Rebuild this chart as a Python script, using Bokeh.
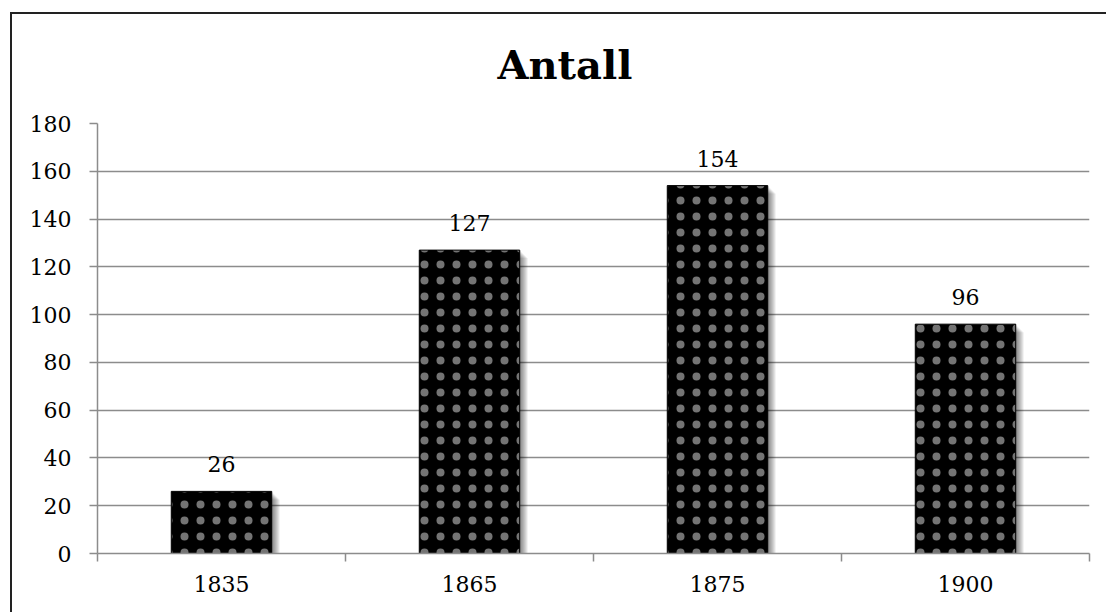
from bokeh.plotting import figure
from bokeh.models import Range1d, FixedTicker
from bokeh.core.properties import value
from bokeh.embed import file_html
from bokeh.resources import INLINE

# ---- data ----
years = ["1835", "1865", "1875", "1900"]
counts = [26, 127, 154, 96]
y_ticks = [0, 20, 40, 60, 80, 100, 120, 140, 160, 180]
title_text = "Antall"

FONT = "DejaVu Serif"
GRID = "#8c8c8c"

W, H = 1106, 612
ML, MR, MT, MB = 97, 17, 123, 59
frame_w = W - ML - MR
frame_h = H - MT - MB

n = len(years)
xs = [i + 0.5 for i in range(n)]
px_x = n / frame_w
px_y = (y_ticks[-1] - y_ticks[0]) / frame_h

p = figure(width=W, height=H, x_range=Range1d(0, n), y_range=Range1d(y_ticks[0], y_ticks[-1]),
           output_backend="svg", toolbar_location=None,
           min_border_left=ML, min_border_right=MR, min_border_top=MT, min_border_bottom=MB)
p.outline_line_color = None
p.background_fill_color = "white"
p.border_fill_alpha = 0
# outer chart border (drawn behind the transparent canvas border area)
p.styles = {
    "background": ("linear-gradient(#222,#222) 10px 12px / 2px 100% no-repeat, "
                   "linear-gradient(#222,#222) 10px 12px / 100% 2px no-repeat, white"),
}

# grid
p.xgrid.visible = False
p.ygrid.ticker = FixedTicker(ticks=y_ticks)
p.ygrid.grid_line_color = GRID
p.ygrid.grid_line_width = 1.5

bar_w = 0.405

# soft shadow
for k in range(1, 9):
    p.vbar(x=[x + k * px_x for x in xs], top=[c - k * px_y for c in counts],
           bottom=-k * px_y, width=bar_w, fill_color="#000000", fill_alpha=0.07,
           line_color=None)

# bars
p.vbar(x=xs, top=counts, width=bar_w, fill_color="black", line_color="black",
       hatch_pattern=".", hatch_color="#747474", hatch_scale=16, hatch_weight=0.5)

# value labels
p.text(x=xs, y=counts, text=[str(c) for c in counts], text_align="center",
       text_baseline="middle", y_offset=-27, text_font=value(FONT),
       text_font_size="22px", text_color="black")

# y axis
ya = p.yaxis[0]
ya.ticker = FixedTicker(ticks=y_ticks)
ya.axis_line_color = GRID
ya.axis_line_width = 1.5
ya.major_tick_line_color = GRID
ya.major_tick_line_width = 1.5
ya.major_tick_out = 8
ya.major_tick_in = 0
ya.minor_tick_line_color = None
ya.major_label_text_font = FONT
ya.major_label_text_font_size = "22px"
ya.major_label_text_color = "black"
ya.major_label_standoff = 18

# x axis
xa = p.xaxis[0]
xa.ticker = FixedTicker(ticks=xs, minor_ticks=list(range(n + 1)))
xa.major_label_overrides = {x: y for x, y in zip(xs, years)}
xa.axis_line_color = GRID
xa.axis_line_width = 1.5
xa.major_tick_line_color = None
xa.major_tick_out = 0
xa.major_tick_in = 0
xa.minor_tick_line_color = GRID
xa.minor_tick_line_width = 1.5
xa.minor_tick_out = 8
xa.minor_tick_in = 0
xa.major_label_text_font = FONT
xa.major_label_text_font_size = "22px"
xa.major_label_text_color = "black"
xa.major_label_standoff = 14

# title
p.title.text = title_text
p.title.text_font = FONT
p.title.text_font_style = "bold"
p.title.text_font_size = "40px"
p.title.text_color = "black"
p.title.align = "left"
p.title.offset = 400
p.title.standoff = 72

open("out.html", "w").write(file_html(p, INLINE))
